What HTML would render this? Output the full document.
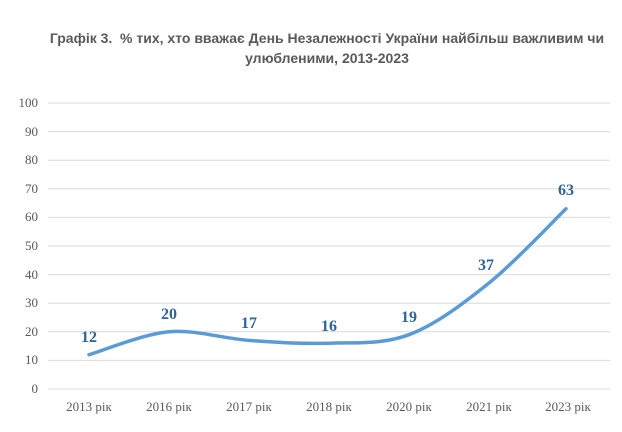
<!DOCTYPE html>
<html><head><meta charset="utf-8"><style>
html,body{margin:0;padding:0;background:#fff;}
</style></head><body>
<svg width="622" height="427" viewBox="0 0 622 427" xmlns="http://www.w3.org/2000/svg">
<rect width="622" height="427" fill="#fff"/>
<g font-family="Liberation Sans, sans-serif" font-weight="bold" font-size="14" fill="#595959" text-anchor="middle">
<text x="327" y="43">Графік 3.&#160; % тих, хто вважає День Незалежності України найбільш важливим чи</text>
<text x="327" y="63">улюбленими, 2013-2023</text>
</g>
<g stroke="#d9d9d9" stroke-width="1">
<line x1="48" x2="610" y1="103" y2="103"/>
<line x1="48" x2="610" y1="131.6" y2="131.6"/>
<line x1="48" x2="610" y1="160.2" y2="160.2"/>
<line x1="48" x2="610" y1="188.8" y2="188.8"/>
<line x1="48" x2="610" y1="217.4" y2="217.4"/>
<line x1="48" x2="610" y1="246" y2="246"/>
<line x1="48" x2="610" y1="274.6" y2="274.6"/>
<line x1="48" x2="610" y1="303.2" y2="303.2"/>
<line x1="48" x2="610" y1="331.8" y2="331.8"/>
<line x1="48" x2="610" y1="360.4" y2="360.4"/>
<line x1="48" x2="610" y1="389" y2="389"/>
</g>
<g font-family="Liberation Serif, serif" font-size="13" fill="#595959" text-anchor="end">
<text x="38" y="107">100</text><text x="38" y="136">90</text><text x="38" y="164">80</text>
<text x="38" y="193">70</text><text x="38" y="221">60</text><text x="38" y="250">50</text>
<text x="38" y="279">40</text><text x="38" y="307">30</text><text x="38" y="336">20</text>
<text x="38" y="364">10</text><text x="38" y="393">0</text>
</g>
<g font-family="Liberation Serif, serif" font-size="13" fill="#595959" text-anchor="middle">
<text x="89" y="411">2013 рік</text><text x="169" y="411">2016 рік</text><text x="249" y="411">2017 рік</text>
<text x="329" y="411">2018 рік</text><text x="409" y="411">2020 рік</text><text x="489" y="411">2021 рік</text>
<text x="568" y="411">2023 рік</text>
</g>
<path d="M89,354.7 C102.3,350.9 142.3,334.2 169,331.8 C195.7,329.4 222.3,338.5 249,340.4 C275.7,342.3 302.3,344.1 329,343.2 C355.7,342.3 382.3,344.7 409,334.7 C435.7,324.7 462.8,304 489,283 C515.2,262 553.2,221.2 566,208.8" fill="none" stroke="#5b9bd5" stroke-width="3.5" stroke-linecap="round"/>
<g font-family="Liberation Serif, serif" font-weight="bold" font-size="16" fill="#2e6496" text-anchor="middle">
<text x="89" y="342">12</text><text x="169" y="319">20</text><text x="249" y="328">17</text>
<text x="329" y="331">16</text><text x="409" y="322">19</text><text x="486" y="270">37</text>
<text x="566" y="195">63</text>
</g>
</svg>
</body></html>
